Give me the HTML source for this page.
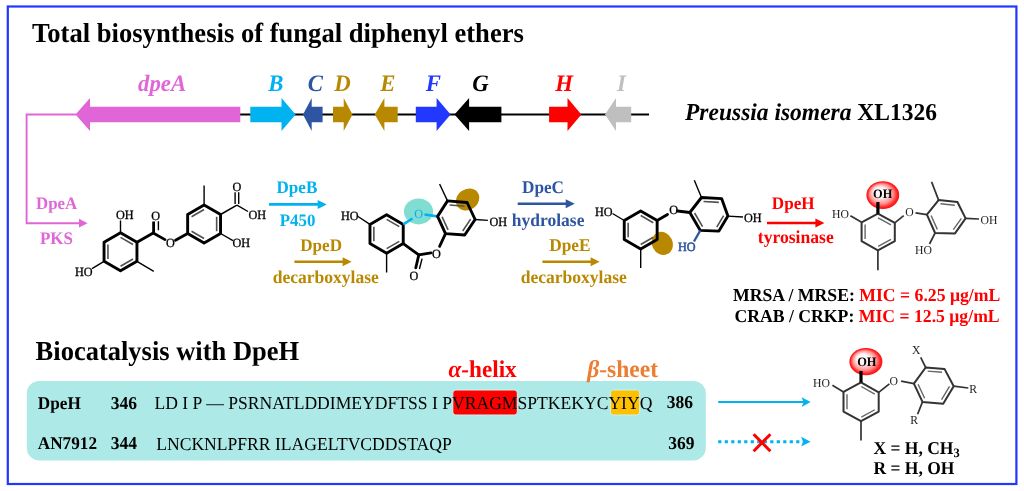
<!DOCTYPE html><html><head><meta charset="utf-8"><style>html,body{margin:0;padding:0;background:#fff;overflow:hidden}svg{display:block}</style></head><body><svg width="1024" height="491" viewBox="0 0 1024 491" font-family="'Liberation Serif', serif" text-rendering="geometricPrecision">
<rect width="1024" height="491" fill="#fff"/>
<rect x="7.8" y="6.5" width="1008.6" height="477.5" fill="none" stroke="#2037ff" stroke-width="2.2"/>
<text transform="translate(32 42.4) scale(1 1.035)" font-size="26.6" font-weight="bold" font-style="normal" fill="#000" text-anchor="start" >Total biosynthesis of fungal diphenyl ethers</text>
<line x1="240" y1="114.5" x2="649" y2="114.5" stroke="#000" stroke-width="2.1" stroke-linecap="butt" />
<polygon points="240.3,106.7 90,106.7 90,98 75.5,114.5 90,131 90,122.3 240.3,122.3" fill="#e066d8" />
<polygon points="250.3,106.7 281.5,106.7 281.5,98 295.6,114.5 281.5,131 281.5,122.3 250.3,122.3" fill="#00b2f0" />
<polygon points="322.6,106.7 311.7,106.7 311.7,98 303,114.5 311.7,131 311.7,122.3 322.6,122.3" fill="#2e55a2" />
<polygon points="333,106.7 343.7,106.7 343.7,98 352.5,114.5 343.7,131 343.7,122.3 333,122.3" fill="#b88900" />
<polygon points="397.7,106.7 384.4,106.7 384.4,98 374.8,114.5 384.4,131 384.4,122.3 397.7,122.3" fill="#b88900" />
<polygon points="415.8,106.7 436.6,106.7 436.6,98 450.6,114.5 436.6,131 436.6,122.3 415.8,122.3" fill="#2238ff" />
<polygon points="501.4,106.7 469.1,106.7 469.1,98 454.5,114.5 469.1,131 469.1,122.3 501.4,122.3" fill="#000" />
<polygon points="549.1,106.7 567.5,106.7 567.5,98 581.3,114.5 567.5,131 567.5,122.3 549.1,122.3" fill="#ff0000" />
<polygon points="631.2,106.7 616,106.7 616,98 605,114.5 616,131 616,122.3 631.2,122.3" fill="#bfbfbf" />
<text transform="translate(138 91.4) scale(1 1.035)" font-size="22.8" font-weight="bold" font-style="italic" fill="#e066d8" text-anchor="start" >dpeA</text>
<text transform="translate(268.3 90.8) scale(1 1.035)" font-size="22.8" font-weight="bold" font-style="italic" fill="#00b2f0" text-anchor="start" >B</text>
<text transform="translate(307.7 90.8) scale(1 1.035)" font-size="22.8" font-weight="bold" font-style="italic" fill="#2e55a2" text-anchor="start" >C</text>
<text transform="translate(334.2 90.8) scale(1 1.035)" font-size="22.8" font-weight="bold" font-style="italic" fill="#b88900" text-anchor="start" >D</text>
<text transform="translate(380.2 90.8) scale(1 1.035)" font-size="22.8" font-weight="bold" font-style="italic" fill="#b88900" text-anchor="start" >E</text>
<text transform="translate(425.7 90.8) scale(1 1.035)" font-size="22.8" font-weight="bold" font-style="italic" fill="#2238ff" text-anchor="start" >F</text>
<text transform="translate(472.3 90.8) scale(1 1.035)" font-size="22.8" font-weight="bold" font-style="italic" fill="#000" text-anchor="start" >G</text>
<text transform="translate(555.3 90.8) scale(1 1.035)" font-size="22.8" font-weight="bold" font-style="italic" fill="#ff0000" text-anchor="start" >H</text>
<text transform="translate(617 90.8) scale(1 1.035)" font-size="22.8" font-weight="bold" font-style="italic" fill="#bfbfbf" text-anchor="start" >I</text>
<text transform="translate(685 119.8) scale(1 1.035)" font-size="23.5" font-weight="bold" font-style="normal" fill="#000" text-anchor="start" ><tspan font-style="italic">Preussia isomera</tspan> XL1326</text>
<polyline points="76,114.5 26.6,114.5 26.6,223.2 80,223.2" fill="none" stroke="#e066d8" stroke-width="1.9"/>
<polygon points="87.6,223.2 79,218.8 79,227.6" fill="#e066d8" />
<text transform="translate(36 209.3) scale(1 1.035)" font-size="16.9" font-weight="bold" font-style="normal" fill="#e066d8" text-anchor="start" >DpeA</text>
<text transform="translate(39.9 243.8) scale(1 1.035)" font-size="17" font-weight="bold" font-style="normal" fill="#e066d8" text-anchor="start" >PKS</text>
<line x1="269" y1="204.4" x2="318.7" y2="204.4" stroke="#00b2f0" stroke-width="2.6" stroke-linecap="butt" />
<polygon points="326.7,204.4 317.7,199.9 317.7,208.9" fill="#00b2f0" />
<text transform="translate(276.5 192.5) scale(1 1.035)" font-size="17.1" font-weight="bold" font-style="normal" fill="#00b2f0" text-anchor="start" >DpeB</text>
<text transform="translate(279.8 226) scale(1 1.035)" font-size="16.9" font-weight="bold" font-style="normal" fill="#00b2f0" text-anchor="start" >P450</text>
<line x1="294.4" y1="261.7" x2="343.6" y2="261.7" stroke="#b88900" stroke-width="2.6" stroke-linecap="butt" />
<polygon points="351.6,261.7 342.6,257.2 342.6,266.2" fill="#b88900" />
<text transform="translate(300.2 251) scale(1 1.035)" font-size="17.1" font-weight="bold" font-style="normal" fill="#b88900" text-anchor="start" >DpeD</text>
<text transform="translate(272.7 282.6) scale(1 1.035)" font-size="17.55" font-weight="bold" font-style="normal" fill="#b88900" text-anchor="start" >decarboxylase</text>
<line x1="517.7" y1="203.7" x2="566.7" y2="203.7" stroke="#2e55a2" stroke-width="2.6" stroke-linecap="butt" />
<polygon points="574.7,203.7 565.7,199.2 565.7,208.2" fill="#2e55a2" />
<text transform="translate(522 192.5) scale(1 1.035)" font-size="17.2" font-weight="bold" font-style="normal" fill="#2e55a2" text-anchor="start" >DpeC</text>
<text transform="translate(511.8 226.1) scale(1 1.035)" font-size="17.5" font-weight="bold" font-style="normal" fill="#2e55a2" text-anchor="start" >hydrolase</text>
<line x1="542.4" y1="261.7" x2="591.6" y2="261.7" stroke="#b88900" stroke-width="2.6" stroke-linecap="butt" />
<polygon points="599.6,261.7 590.6,257.2 590.6,266.2" fill="#b88900" />
<text transform="translate(549.2 251) scale(1 1.035)" font-size="17.35" font-weight="bold" font-style="normal" fill="#b88900" text-anchor="start" >DpeE</text>
<text transform="translate(520.7 282.6) scale(1 1.035)" font-size="17.55" font-weight="bold" font-style="normal" fill="#b88900" text-anchor="start" >decarboxylase</text>
<line x1="767" y1="223" x2="816.4" y2="223" stroke="#ff0000" stroke-width="2.6" stroke-linecap="butt" />
<polygon points="824.4,223 815.4,218.5 815.4,227.5" fill="#ff0000" />
<text transform="translate(771.8 209.1) scale(1 1.035)" font-size="17.1" font-weight="bold" font-style="normal" fill="#ff0000" text-anchor="start" >DpeH</text>
<text transform="translate(757.8 243.4) scale(1 1.035)" font-size="17.6" font-weight="bold" font-style="normal" fill="#ff0000" text-anchor="start" >tyrosinase</text>
<polygon points="120.5,232.8 136.95,242.3 136.95,261.3 120.5,270.8 104.05,261.3 104.05,242.3" fill="none" stroke="#000" stroke-width="2.9" stroke-linejoin="round"/>
<line x1="120.52" y1="237.32" x2="133.03" y2="244.54" stroke="#505050" stroke-width="1.6" stroke-linecap="butt" />
<line x1="133.03" y1="259.06" x2="120.52" y2="266.28" stroke="#505050" stroke-width="1.6" stroke-linecap="butt" />
<line x1="107.95" y1="259.02" x2="107.95" y2="244.58" stroke="#505050" stroke-width="1.6" stroke-linecap="butt" />
<line x1="120.5" y1="232.8" x2="120.5" y2="220.5" stroke="#000" stroke-width="1.4" stroke-linecap="butt" />
<text transform="translate(116 219.1) scale(1 1.035)" font-size="12.2" font-weight="normal" font-style="normal" fill="#000" stroke="#000" stroke-width="0.3" text-anchor="start" >OH</text>
<line x1="104.05" y1="261.3" x2="92" y2="268.7" stroke="#000" stroke-width="1.4" stroke-linecap="butt" />
<text transform="translate(75 276.1) scale(1 1.035)" font-size="12.2" font-weight="normal" font-style="normal" fill="#000" stroke="#000" stroke-width="0.3" text-anchor="start" >HO</text>
<line x1="136.95" y1="261.3" x2="153.8" y2="271.4" stroke="#000" stroke-width="1.4" stroke-linecap="butt" />
<line x1="136.95" y1="242.3" x2="153.2" y2="233" stroke="#000" stroke-width="2.8" stroke-linecap="round" />
<line x1="153.6" y1="233" x2="153.6" y2="221.5" stroke="#000" stroke-width="2.8" stroke-linecap="butt" />
<line x1="158.4" y1="230.2" x2="158.4" y2="221.2" stroke="#000" stroke-width="1.4" stroke-linecap="butt" />
<text transform="translate(155.6 219.7) scale(1 1.035)" font-size="12.2" font-weight="normal" font-style="normal" fill="#000" stroke="#000" stroke-width="0.3" text-anchor="middle" >O</text>
<line x1="153.2" y1="233" x2="165" y2="239.6" stroke="#000" stroke-width="2.8" stroke-linecap="round" />
<text transform="translate(170.3 247.3) scale(1 1.035)" font-size="12.2" font-weight="normal" font-style="normal" fill="#000" stroke="#000" stroke-width="0.3" text-anchor="middle" >O</text>
<line x1="175.5" y1="240.3" x2="187.65" y2="233.5" stroke="#000" stroke-width="2.8" stroke-linecap="round" />
<polygon points="204.1,205 220.55,214.5 220.55,233.5 204.1,243 187.65,233.5 187.65,214.5" fill="none" stroke="#000" stroke-width="2.9" stroke-linejoin="round"/>
<line x1="204.08" y1="209.52" x2="191.57" y2="216.74" stroke="#505050" stroke-width="1.6" stroke-linecap="butt" />
<line x1="216.65" y1="216.78" x2="216.65" y2="231.22" stroke="#505050" stroke-width="1.6" stroke-linecap="butt" />
<line x1="204.08" y1="238.48" x2="191.57" y2="231.26" stroke="#505050" stroke-width="1.6" stroke-linecap="butt" />
<line x1="204.1" y1="205" x2="204.1" y2="185.5" stroke="#000" stroke-width="1.4" stroke-linecap="butt" />
<line x1="220.55" y1="214.5" x2="236.9" y2="205.1" stroke="#000" stroke-width="1.5" stroke-linecap="butt" />
<line x1="235.1" y1="204" x2="235.1" y2="192.2" stroke="#000" stroke-width="1.4" stroke-linecap="butt" />
<line x1="238.7" y1="204" x2="238.7" y2="192.2" stroke="#000" stroke-width="1.4" stroke-linecap="butt" />
<text transform="translate(236.9 191.3) scale(1 1.035)" font-size="12.2" font-weight="normal" font-style="normal" fill="#000" stroke="#000" stroke-width="0.3" text-anchor="middle" >O</text>
<line x1="236.9" y1="205.1" x2="248" y2="211.5" stroke="#000" stroke-width="1.4" stroke-linecap="butt" />
<text transform="translate(248.5 218.5) scale(1 1.035)" font-size="12.2" font-weight="normal" font-style="normal" fill="#000" stroke="#000" stroke-width="0.3" text-anchor="start" >OH</text>
<line x1="220.55" y1="233.5" x2="233" y2="240.6" stroke="#000" stroke-width="1.4" stroke-linecap="butt" />
<text transform="translate(232.5 247) scale(1 1.035)" font-size="12.2" font-weight="normal" font-style="normal" fill="#000" stroke="#000" stroke-width="0.3" text-anchor="start" >OH</text>
<ellipse cx="418.5" cy="211.4" rx="14.6" ry="13" fill="#80ddd2"/>
<ellipse cx="467.6" cy="199.5" rx="12.3" ry="10.3" fill="#b88900" transform="rotate(-35 467.6 199.5)"/>
<polygon points="386.6,214.8 403.23,224.4 403.23,243.6 386.6,253.2 369.97,243.6 369.97,224.4" fill="none" stroke="#000" stroke-width="2.9" stroke-linejoin="round"/>
<line x1="386.65" y1="219.33" x2="399.28" y2="226.63" stroke="#505050" stroke-width="1.6" stroke-linecap="butt" />
<line x1="373.87" y1="226.7" x2="373.87" y2="241.3" stroke="#505050" stroke-width="1.6" stroke-linecap="butt" />
<line x1="386.65" y1="248.67" x2="399.28" y2="241.37" stroke="#505050" stroke-width="1.6" stroke-linecap="butt" />
<line x1="369.97" y1="224.4" x2="358" y2="216.5" stroke="#000" stroke-width="1.4" stroke-linecap="butt" />
<text transform="translate(341 220.4) scale(1 1.035)" font-size="12.2" font-weight="normal" font-style="normal" fill="#000" stroke="#000" stroke-width="0.3" text-anchor="start" >HO</text>
<line x1="386.6" y1="253.2" x2="386.6" y2="272.5" stroke="#000" stroke-width="1.4" stroke-linecap="butt" />
<line x1="403.23" y1="224.4" x2="412.5" y2="218.5" stroke="#00b2f0" stroke-width="2.6" stroke-linecap="butt" />
<text transform="translate(418.6 217.9) scale(1 1.035)" font-size="12.2" font-weight="normal" font-style="normal" fill="#10a8f0" text-anchor="middle" >O</text>
<line x1="424.5" y1="214.5" x2="437.6" y2="216.4" stroke="#00b2f0" stroke-width="2.6" stroke-linecap="butt" />
<polygon points="447.5,200.9 467.1,202.5 475.1,219.5 464.7,235 445.5,233.6 437.6,216.4" fill="none" stroke="#000" stroke-width="2.9" stroke-linejoin="round"/>
<line x1="449.6" y1="204.98" x2="464.5" y2="206.2" stroke="#505050" stroke-width="1.6" stroke-linecap="butt" />
<line x1="470.63" y1="219.17" x2="462.72" y2="230.95" stroke="#505050" stroke-width="1.6" stroke-linecap="butt" />
<line x1="442.07" y1="216.78" x2="448.07" y2="229.86" stroke="#505050" stroke-width="1.6" stroke-linecap="butt" />
<line x1="447.5" y1="200.9" x2="439.6" y2="184" stroke="#000" stroke-width="1.4" stroke-linecap="butt" />
<line x1="475.1" y1="219.5" x2="487.9" y2="220.4" stroke="#000" stroke-width="1.4" stroke-linecap="butt" />
<text transform="translate(489.5 225.5) scale(1 1.035)" font-size="12.2" font-weight="normal" font-style="normal" fill="#000" stroke="#000" stroke-width="0.3" text-anchor="start" >OH</text>
<line x1="403.23" y1="243.6" x2="418.8" y2="254.9" stroke="#000" stroke-width="2.8" stroke-linecap="round" />
<line x1="418.8" y1="254.9" x2="431" y2="252.9" stroke="#000" stroke-width="2.8" stroke-linecap="round" />
<text transform="translate(436.5 257.5) scale(1 1.035)" font-size="12.2" font-weight="normal" font-style="normal" fill="#000" stroke="#000" stroke-width="0.3" text-anchor="middle" >O</text>
<line x1="439.6" y1="246.4" x2="445.5" y2="233.6" stroke="#000" stroke-width="2.8" stroke-linecap="round" />
<line x1="418.8" y1="254.9" x2="415.8" y2="267.8" stroke="#000" stroke-width="2.8" stroke-linecap="round" />
<line x1="422.1" y1="258.6" x2="419.4" y2="269" stroke="#000" stroke-width="1.4" stroke-linecap="butt" />
<text transform="translate(413.9 279.5) scale(1 1.035)" font-size="12.2" font-weight="normal" font-style="normal" fill="#000" stroke="#000" stroke-width="0.3" text-anchor="middle" >O</text>
<ellipse cx="662.3" cy="243.4" rx="10.3" ry="11.8" fill="#b88900" transform="rotate(-25 662.3 243.4)"/>
<polygon points="640.7,211 657.15,220.5 657.15,239.5 640.7,249 624.25,239.5 624.25,220.5" fill="none" stroke="#000" stroke-width="2.9" stroke-linejoin="round"/>
<line x1="640.72" y1="215.52" x2="653.23" y2="222.74" stroke="#505050" stroke-width="1.6" stroke-linecap="butt" />
<line x1="628.15" y1="222.78" x2="628.15" y2="237.22" stroke="#505050" stroke-width="1.6" stroke-linecap="butt" />
<line x1="653.23" y1="237.26" x2="640.72" y2="244.48" stroke="#505050" stroke-width="1.6" stroke-linecap="butt" />
<line x1="624.25" y1="220.5" x2="612.5" y2="213.5" stroke="#000" stroke-width="1.4" stroke-linecap="butt" />
<text transform="translate(595 216.1) scale(1 1.035)" font-size="12.2" font-weight="normal" font-style="normal" fill="#000" stroke="#000" stroke-width="0.3" text-anchor="start" >HO</text>
<line x1="640.7" y1="249" x2="640.7" y2="268" stroke="#000" stroke-width="1.4" stroke-linecap="butt" />
<line x1="657.15" y1="220.5" x2="667.5" y2="214.5" stroke="#000" stroke-width="2.8" stroke-linecap="round" />
<text transform="translate(673.6 213.5) scale(1 1.035)" font-size="12.2" font-weight="normal" font-style="normal" fill="#000" stroke="#000" stroke-width="0.3" text-anchor="middle" >O</text>
<line x1="677.5" y1="211" x2="689.8" y2="212.5" stroke="#000" stroke-width="2.8" stroke-linecap="round" />
<polygon points="689.8,212.5 701.5,197.5 721.6,198.6 727.9,216.1 718.9,231.1 700.3,230.4" fill="none" stroke="#000" stroke-width="2.9" stroke-linejoin="round"/>
<line x1="703.54" y1="201.51" x2="718.82" y2="202.35" stroke="#505050" stroke-width="1.6" stroke-linecap="butt" />
<line x1="694.58" y1="212.98" x2="702.56" y2="226.58" stroke="#505050" stroke-width="1.6" stroke-linecap="butt" />
<line x1="723.61" y1="215.69" x2="716.77" y2="227.09" stroke="#505050" stroke-width="1.6" stroke-linecap="butt" />
<line x1="701.5" y1="197.5" x2="694.3" y2="180.2" stroke="#000" stroke-width="1.4" stroke-linecap="butt" />
<line x1="727.9" y1="216.1" x2="743" y2="217" stroke="#000" stroke-width="1.4" stroke-linecap="butt" />
<text transform="translate(744 222.2) scale(1 1.035)" font-size="12.2" font-weight="normal" font-style="normal" fill="#000" stroke="#000" stroke-width="0.3" text-anchor="start" >OH</text>
<line x1="700.3" y1="230.4" x2="694" y2="241.5" stroke="#2e55a2" stroke-width="2.3" stroke-linecap="butt" />
<text transform="translate(678 251.3) scale(1 1.035)" font-size="12.2" font-weight="normal" font-style="normal" fill="#2e55a2" stroke="#2e55a2" stroke-width="0.55" text-anchor="start" >HO</text>
<defs><radialGradient id="rg" cx="0.5" cy="0.5" r="0.5" fx="0.36" fy="0.34"><stop offset="0" stop-color="#ffffff"/><stop offset="0.4" stop-color="#fff0f0"/><stop offset="0.72" stop-color="#ff8c8c"/><stop offset="0.9" stop-color="#ff2626"/><stop offset="1" stop-color="#ff0a0a"/></radialGradient></defs>
<ellipse cx="882.8" cy="195.1" rx="16.4" ry="13.9" fill="url(#rg)"/>
<polygon points="877.9,213.7 894.8,222.9 894.8,241.2 877.9,250.4 861.6,241.2 861.6,222.3" fill="none" stroke="#333" stroke-width="2.0" stroke-linejoin="round"/>
<line x1="878.12" y1="217.8" x2="890.96" y2="224.79" stroke="#666" stroke-width="1.4" stroke-linecap="butt" />
<line x1="865.1" y1="224.61" x2="865.1" y2="238.97" stroke="#666" stroke-width="1.4" stroke-linecap="butt" />
<line x1="890.98" y1="239.3" x2="878.14" y2="246.29" stroke="#666" stroke-width="1.4" stroke-linecap="butt" />
<line x1="877.9" y1="213.7" x2="877.9" y2="202" stroke="#000" stroke-width="3.2" stroke-linecap="butt" />
<text transform="translate(873 198.3) scale(1 1.035)" font-size="12.4" font-weight="bold" font-style="normal" fill="#000" text-anchor="start" >OH</text>
<line x1="861.6" y1="222.3" x2="850.4" y2="215.7" stroke="#333" stroke-width="1.7" stroke-linecap="butt" />
<text transform="translate(832 218.2) scale(1 1.035)" font-size="11.7" font-weight="normal" font-style="normal" fill="#222" text-anchor="start" >HO</text>
<line x1="877.9" y1="250.4" x2="877.9" y2="270.3" stroke="#333" stroke-width="1.7" stroke-linecap="butt" />
<line x1="894.8" y1="222.9" x2="903.7" y2="215.7" stroke="#333" stroke-width="1.7" stroke-linecap="butt" />
<text transform="translate(909.4 216.3) scale(1 1.035)" font-size="11.7" font-weight="normal" font-style="normal" fill="#222" text-anchor="middle" >O</text>
<line x1="915.5" y1="212.8" x2="926.9" y2="214.7" stroke="#333" stroke-width="1.7" stroke-linecap="butt" />
<polygon points="926.9,214.7 938.6,200.1 957.4,202 965.6,218.4 955,233.4 935.1,233" fill="none" stroke="#333" stroke-width="2.0" stroke-linejoin="round"/>
<line x1="940.51" y1="203.81" x2="954.8" y2="205.26" stroke="#666" stroke-width="1.4" stroke-linecap="butt" />
<line x1="931.08" y1="215.46" x2="937.31" y2="229.37" stroke="#666" stroke-width="1.4" stroke-linecap="butt" />
<line x1="961.39" y1="218.3" x2="953.33" y2="229.7" stroke="#666" stroke-width="1.4" stroke-linecap="butt" />
<line x1="938.6" y1="200.1" x2="931.6" y2="181.9" stroke="#333" stroke-width="1.7" stroke-linecap="butt" />
<line x1="965.6" y1="218.4" x2="979" y2="219" stroke="#333" stroke-width="1.7" stroke-linecap="butt" />
<text transform="translate(980.5 223.6) scale(1 1.035)" font-size="11.7" font-weight="normal" font-style="normal" fill="#222" text-anchor="start" >OH</text>
<line x1="935.1" y1="233" x2="929.5" y2="244" stroke="#333" stroke-width="1.7" stroke-linecap="butt" />
<text transform="translate(915 254) scale(1 1.035)" font-size="11.7" font-weight="normal" font-style="normal" fill="#222" text-anchor="start" >HO</text>
<text transform="translate(733 300.5) scale(1 1.035)" font-size="17.7" font-weight="bold" font-style="normal" fill="#000" text-anchor="start" >MRSA / MRSE: <tspan fill="#ff0000">MIC = 6.25 μg/mL</tspan></text>
<text transform="translate(734.4 322.4) scale(1 1.035)" font-size="17.7" font-weight="bold" font-style="normal" fill="#000" text-anchor="start" >CRAB / CRKP: <tspan fill="#ff0000">MIC = 12.5 μg/mL</tspan></text>
<text transform="translate(35.6 360.3) scale(1 1.035)" font-size="26.5" font-weight="bold" font-style="normal" fill="#000" text-anchor="start" >Biocatalysis with DpeH</text>
<rect x="26.8" y="380.9" width="679" height="79.5" rx="12.5" fill="#ade9e6"/>
<rect x="452.8" y="390" width="64.5" height="25" rx="3" fill="#ff0000" stroke="#c8f4f4" stroke-width="1"/>
<rect x="610.4" y="390" width="29.3" height="25" rx="3" fill="#ffc000" stroke="#c8f4f4" stroke-width="1"/>
<text transform="translate(37.8 408.6) scale(1 1.035)" font-size="17.2" font-weight="bold" font-style="normal" fill="#000" text-anchor="start" >DpeH</text>
<text transform="translate(110.8 408.6) scale(1 1.035)" font-size="17.5" font-weight="bold" font-style="normal" fill="#000" text-anchor="start" >346</text>
<text transform="translate(154.5 409.2) scale(1 1.035)" font-size="17.6" font-weight="normal" font-style="normal" fill="#000" text-anchor="start" xml:space="preserve">LD I P — PSRNATLDDIMEYDFTSS I PVRAGMSPTKEKYCYIYQ</text>
<text transform="translate(666.7 408.3) scale(1 1.035)" font-size="17.5" font-weight="bold" font-style="normal" fill="#000" text-anchor="start" >386</text>
<text transform="translate(37.8 449.3) scale(1 1.035)" font-size="17.2" font-weight="bold" font-style="normal" fill="#000" text-anchor="start" >AN7912</text>
<text transform="translate(110.8 449.3) scale(1 1.035)" font-size="17.5" font-weight="bold" font-style="normal" fill="#000" text-anchor="start" >344</text>
<text transform="translate(156.2 449.8) scale(1 1.035)" font-size="17.6" font-weight="normal" font-style="normal" fill="#000" text-anchor="start" >LNCKNLPFRR ILAGELTVCDDSTAQP</text>
<text transform="translate(668.3 449.1) scale(1 1.035)" font-size="17.5" font-weight="bold" font-style="normal" fill="#000" text-anchor="start" >369</text>
<text transform="translate(448.5 377.2) scale(1 1.035)" font-size="23.2" font-weight="bold" font-style="normal" fill="#ff0000" text-anchor="start" ><tspan font-style="italic">α</tspan>-helix</text>
<text transform="translate(587.2 377.2) scale(1 1.035)" font-size="23.5" font-weight="bold" font-style="normal" fill="#ed7d31" text-anchor="start" ><tspan font-style="italic">β</tspan>-sheet</text>
<line x1="718.2" y1="402.1" x2="805" y2="402.1" stroke="#00b2f0" stroke-width="2.0" stroke-linecap="butt" />
<polygon points="810.6,402.1 801.6,397.2 803.6,402.1 801.6,407" fill="#00b2f0" />
<line x1="718.2" y1="441.7" x2="803" y2="441.7" stroke="#00b2f0" stroke-width="3" stroke-dasharray="3.2,3.3"/>
<polygon points="810.6,441.7 801,436.8 803.2,441.7 801,446.6" fill="#00b2f0" />
<line x1="753.6" y1="434.2" x2="770.4" y2="451.2" stroke="#ff0000" stroke-width="3" stroke-linecap="butt" />
<line x1="770.4" y1="434.2" x2="753.6" y2="451.2" stroke="#ff0000" stroke-width="3" stroke-linecap="butt" />
<ellipse cx="865.9" cy="361.7" rx="16.5" ry="13.6" fill="url(#rg)"/>
<polygon points="861,382.3 878.7,392.4 878.7,411.6 861,421.2 843.5,411.6 843.5,391.9" fill="none" stroke="#333" stroke-width="2.0" stroke-linejoin="round"/>
<line x1="861.31" y1="386.5" x2="874.76" y2="394.18" stroke="#666" stroke-width="1.4" stroke-linecap="butt" />
<line x1="847" y1="394.28" x2="847" y2="409.25" stroke="#666" stroke-width="1.4" stroke-linecap="butt" />
<line x1="874.77" y1="409.75" x2="861.32" y2="417.05" stroke="#666" stroke-width="1.4" stroke-linecap="butt" />
<line x1="861" y1="382.3" x2="861" y2="371" stroke="#000" stroke-width="3.2" stroke-linecap="butt" />
<text transform="translate(857.2 365.8) scale(1 1.035)" font-size="12.4" font-weight="bold" font-style="normal" fill="#000" text-anchor="start" >OH</text>
<line x1="843.5" y1="391.9" x2="832.4" y2="385.3" stroke="#333" stroke-width="1.7" stroke-linecap="butt" />
<text transform="translate(813 387) scale(1 1.035)" font-size="11.7" font-weight="normal" font-style="normal" fill="#222" text-anchor="start" >HO</text>
<line x1="861" y1="421.2" x2="861" y2="440.4" stroke="#333" stroke-width="1.7" stroke-linecap="butt" />
<line x1="878.7" y1="392.4" x2="889.4" y2="383.8" stroke="#333" stroke-width="1.7" stroke-linecap="butt" />
<text transform="translate(893.7 385.1) scale(1 1.035)" font-size="11.7" font-weight="normal" font-style="normal" fill="#222" text-anchor="middle" >O</text>
<line x1="901.1" y1="381.2" x2="913.9" y2="383.6" stroke="#333" stroke-width="1.7" stroke-linecap="butt" />
<polygon points="913.9,383.6 925.7,367.5 944.5,368.9 953.7,386.2 943.2,403.7 922.5,401.9" fill="none" stroke="#333" stroke-width="2.0" stroke-linejoin="round"/>
<line x1="927.71" y1="371.16" x2="942" y2="372.22" stroke="#666" stroke-width="1.4" stroke-linecap="butt" />
<line x1="918.09" y1="384.3" x2="924.63" y2="398.2" stroke="#666" stroke-width="1.4" stroke-linecap="butt" />
<line x1="949.52" y1="386.36" x2="941.54" y2="399.66" stroke="#666" stroke-width="1.4" stroke-linecap="butt" />
<line x1="925.7" y1="367.5" x2="920.7" y2="357.4" stroke="#333" stroke-width="1.7" stroke-linecap="butt" />
<text transform="translate(912 354.3) scale(1 1.035)" font-size="11.7" font-weight="normal" font-style="normal" fill="#222" text-anchor="start" >X</text>
<line x1="953.7" y1="386.2" x2="968.3" y2="388" stroke="#333" stroke-width="1.7" stroke-linecap="butt" />
<text transform="translate(969.3 393.1) scale(1 1.035)" font-size="11.7" font-weight="normal" font-style="normal" fill="#222" text-anchor="start" >R</text>
<line x1="922.5" y1="401.9" x2="917.6" y2="414.2" stroke="#333" stroke-width="1.7" stroke-linecap="butt" />
<text transform="translate(910.3 423.9) scale(1 1.035)" font-size="11.7" font-weight="normal" font-style="normal" fill="#222" text-anchor="start" >R</text>
<text transform="translate(873.5 453.8) scale(1 1.035)" font-size="17.5" font-weight="bold" font-style="normal" fill="#000" text-anchor="start" >X = H, CH<tspan font-size="12.5" dy="3.5">3</tspan></text>
<text transform="translate(873.5 474.4) scale(1 1.035)" font-size="17.5" font-weight="bold" font-style="normal" fill="#000" text-anchor="start" >R = H, OH</text>
</svg></body></html>
